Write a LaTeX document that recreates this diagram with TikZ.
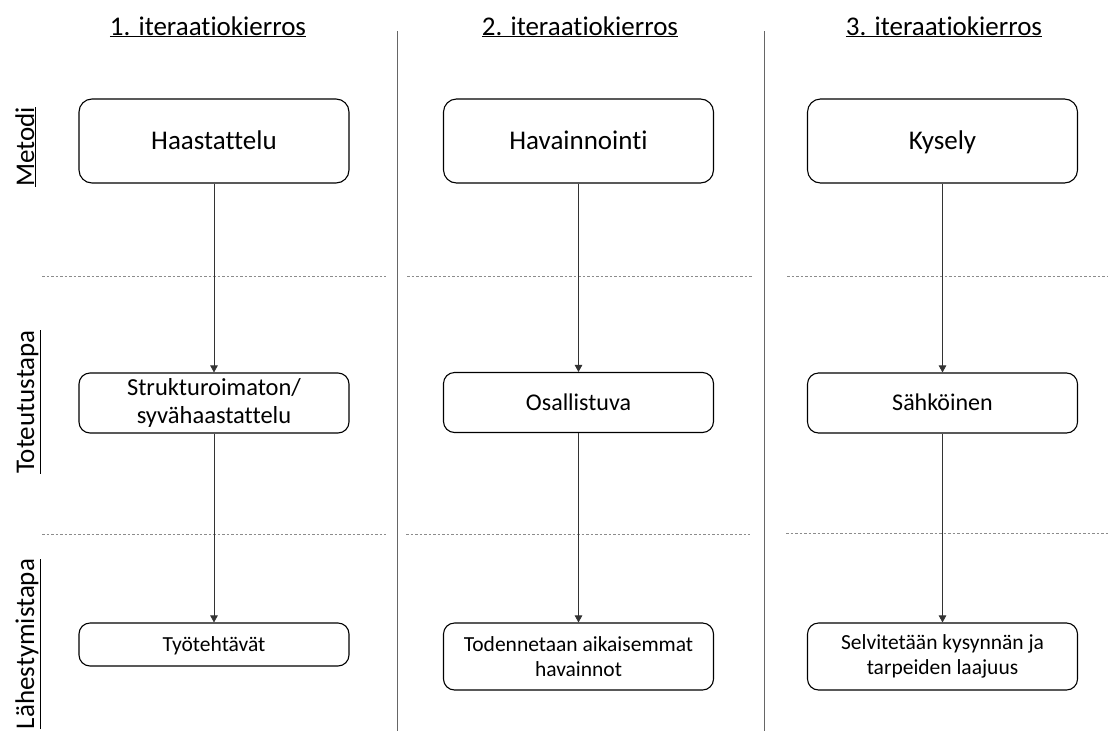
\documentclass[tikz,border=0pt]{standalone}
\usepackage{fontspec}
\setmainfont{Carlito}[Ligatures={NoCommon}]
\usetikzlibrary{arrows.meta}
\begin{document}
\begin{tikzpicture}[x=1pt,y=-1pt,
  stagebox/.style={draw=black,line width=1.1pt,rounded corners=11pt,minimum width=270pt,inner sep=2pt},
  methodbox/.style={stagebox,minimum height=84pt,rounded corners=13pt,font=\fontsize{27}{32}\selectfont,
    text height=17.4pt,text depth=0pt},
  waybox/.style={stagebox,minimum height=60pt,font=\fontsize{24}{28}\selectfont},
  wayline/.style={waybox,text height=15.5pt,text depth=0pt},
  approachbox/.style={stagebox,font=\fontsize{21.5}{25.5}\selectfont},
  approachline/.style={approachbox,text height=13.8pt,text depth=0pt},
  flow/.style={draw=black!80,line width=0.8pt,-{Triangle[width=7.5pt,length=7pt]}},
  colsep/.style={draw=black!60,line width=0.8pt},
  rowsep/.style={draw=black!45,line width=0.8pt,dash pattern=on 2.5pt off 2pt},
  coltitle/.style={font=\fontsize{27}{32}\selectfont,anchor=base},
  rowtitle/.style={font=\fontsize{27}{32}\selectfont,rotate=90,anchor=base}]
\useasboundingbox (0,0) rectangle (1118,731);

% column titles
\node[coltitle] (t1) at (208,35) {\underline{1. iteraatiokierros}};
\node[coltitle] (t2) at (580,35) {\underline{2. iteraatiokierros}};
\node[coltitle] (t3) at (944,35) {\underline{3. iteraatiokierros}};

% row titles
\node[rowtitle] (r1) at (34,147) {\underline{Metodi}};
\node[rowtitle] (r2) at (34,402) {\underline{Toteutustapa}};
\node[rowtitle] (r3) at (34,644) {\underline{Lähestymistapa}};

% column separators
\coordinate (s1a) at (397,31); \coordinate (s1b) at (397,731);
\coordinate (s2a) at (764,31); \coordinate (s2b) at (764,731);
\draw[colsep] (s1a) -- (s1b);
\draw[colsep] (s2a) -- (s2b);

% row separators
\coordinate (d1a) at (42,276);  \coordinate (d1b) at (386,276);
\coordinate (d2a) at (407,276); \coordinate (d2b) at (752,276);
\coordinate (d3a) at (787,276); \coordinate (d3b) at (1108,276);
\coordinate (e1a) at (42,534);  \coordinate (e1b) at (386,534);
\coordinate (e2a) at (406,534); \coordinate (e2b) at (750,534);
\coordinate (e3a) at (786,533); \coordinate (e3b) at (1108,533);
\draw[rowsep] (d1a) -- (d1b);
\draw[rowsep] (d2a) -- (d2b);
\draw[rowsep] (d3a) -- (d3b);
\draw[rowsep] (e1a) -- (e1b);
\draw[rowsep] (e2a) -- (e2b);
\draw[rowsep] (e3a) -- (e3b);

% column 1
\node[methodbox] (m1) at (214,141) {Haastattelu};
\node[waybox,align=center,font=\fontsize{24.5}{28}\selectfont] (w1) at (214,403) {Strukturoimaton/\\syvähaastattelu};
\node[approachline,minimum height=43pt] (a1) at (214,644.5) {Työtehtävät};

% column 2
\node[methodbox] (m2) at (578.5,141) {Havainnointi};
\node[wayline] (w2) at (578.5,402.5) {Osallistuva};
\node[approachbox,align=center,minimum height=67pt] (a2) at (578.5,656.5) {Todennetaan aikaisemmat\\havainnot};

% column 3
\node[methodbox] (m3) at (942.5,141) {Kysely};
\node[wayline] (w3) at (942.5,403) {Sähköinen};
\node[approachbox,align=center,minimum height=67pt] (a3) at (942.5,656.5) {Selvitetään kysynnän ja\\tarpeiden laajuus};

% flow arrows
\draw[flow] (m1) -- (w1);
\draw[flow] (w1) -- (a1);
\draw[flow] (m2) -- (w2);
\draw[flow] (w2) -- (a2);
\draw[flow] (m3) -- (w3);
\draw[flow] (w3) -- (a3);
\end{tikzpicture}
\end{document}
